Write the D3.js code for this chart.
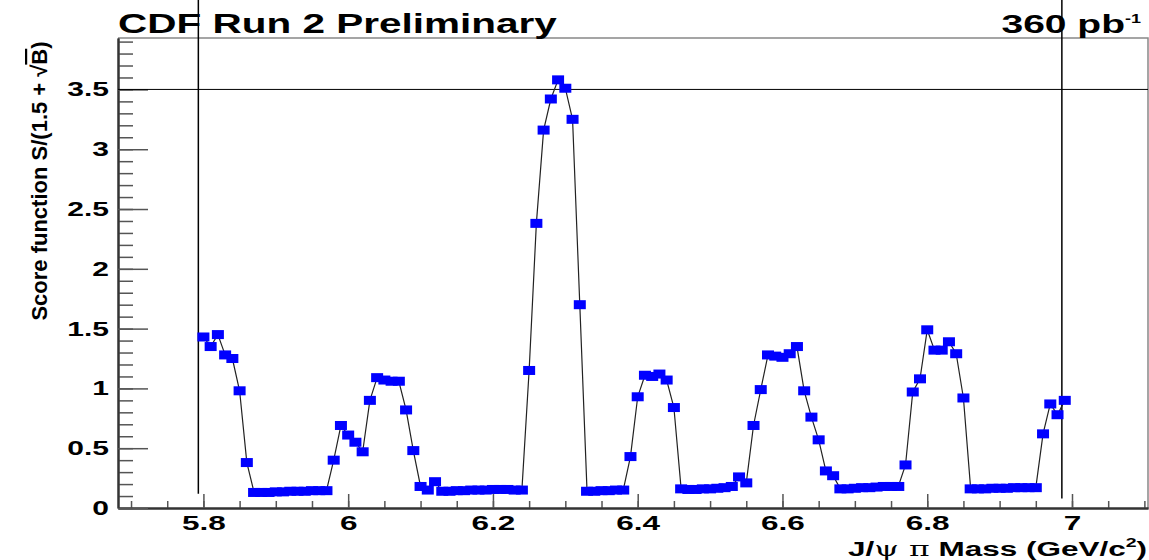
<!DOCTYPE html>
<html>
<head>
<meta charset="utf-8">
<script src="https://cdn.jsdelivr.net/npm/d3@7"></script>
<style>
body { margin: 0; background: #fff; }
svg { display: block; }
text { font-family: "Liberation Sans", Arial, Helvetica, sans-serif; font-weight: bold; fill: #000; }
</style>
</head>
<body>
<svg id="chart"></svg>
<script>
// J/psi pi mass bins (GeV/c^2)
const mass = [
  5.80, 5.81, 5.82, 5.83, 5.84, 5.85, 5.86, 5.87, 5.88, 5.89,
  5.90, 5.91, 5.92, 5.93, 5.94, 5.95, 5.96, 5.97, 5.98, 5.99,
  6.00, 6.01, 6.02, 6.03, 6.04, 6.05, 6.06, 6.07, 6.08, 6.09,
  6.10, 6.11, 6.12, 6.13, 6.14, 6.15, 6.16, 6.17, 6.18, 6.19,
  6.20, 6.21, 6.22, 6.23, 6.24, 6.25, 6.26, 6.27, 6.28, 6.29,
  6.30, 6.31, 6.32, 6.33, 6.34, 6.35, 6.36, 6.37, 6.38, 6.39,
  6.40, 6.41, 6.42, 6.43, 6.44, 6.45, 6.46, 6.47, 6.48, 6.49,
  6.50, 6.51, 6.52, 6.53, 6.54, 6.55, 6.56, 6.57, 6.58, 6.59,
  6.60, 6.61, 6.62, 6.63, 6.64, 6.65, 6.66, 6.67, 6.68, 6.69,
  6.70, 6.71, 6.72, 6.73, 6.74, 6.75, 6.76, 6.77, 6.78, 6.79,
  6.80, 6.81, 6.82, 6.83, 6.84, 6.85, 6.86, 6.87, 6.88, 6.89,
  6.90, 6.91, 6.92, 6.93, 6.94, 6.95, 6.96, 6.97, 6.98, 6.99
];
// score function S/(1.5 + sqrt(B))
const score = [
  1.43, 1.35, 1.45, 1.28, 1.25, 0.98, 0.38, 0.13, 0.13, 0.13,
  0.135, 0.135, 0.14, 0.14, 0.14, 0.145, 0.145, 0.145, 0.40, 0.69,
  0.61, 0.55, 0.47, 0.90, 1.09, 1.07, 1.06, 1.06, 0.82, 0.48,
  0.18, 0.15, 0.22, 0.14, 0.14, 0.145, 0.145, 0.15, 0.15, 0.15,
  0.155, 0.155, 0.155, 0.15, 0.15, 1.15, 2.38, 3.16, 3.42, 3.58,
  3.51, 3.25, 1.70, 0.14, 0.14, 0.145, 0.145, 0.15, 0.15, 0.43,
  0.93, 1.11, 1.10, 1.12, 1.07, 0.84, 0.16, 0.155, 0.155, 0.16,
  0.16, 0.165, 0.17, 0.18, 0.26, 0.21, 0.69, 0.99, 1.28, 1.27,
  1.26, 1.29, 1.35, 0.98, 0.76, 0.57, 0.31, 0.27, 0.16, 0.16,
  0.165, 0.17, 0.17, 0.175, 0.18, 0.18, 0.18, 0.36, 0.97, 1.08,
  1.49, 1.32, 1.32, 1.39, 1.29, 0.92, 0.16, 0.16, 0.16, 0.165,
  0.165, 0.165, 0.17, 0.17, 0.17, 0.17, 0.62, 0.87, 0.78, 0.90
];
const xTicks = [5.8, 6.0, 6.2, 6.4, 6.6, 6.8, 7.0];
const xTickLabels = ['5.8', '6', '6.2', '6.4', '6.6', '6.8', '7'];
const yTicks = [0, 0.5, 1, 1.5, 2, 2.5, 3, 3.5];
const yTickLabels = ['0', '0.5', '1', '1.5', '2', '2.5', '3', '3.5'];
const cutLine = 3.5;          // horizontal reference
const windowEdges = [5.793, 6.986]; // vertical markers

const w = 1149, h = 560;
const padL = 118, padR = 1148, padT = 38, padB = 508;
const sx = 1.5; // the original text is drawn horizontally stretched

const svg = d3.select('#chart').attr('width', w).attr('height', h);

const x = d3.scaleLinear().domain([5.682, 7.105]).range([padL, padR]);
const y = d3.scaleLinear().domain([0, 3.93]).range([padB, padT]);

// frame (top / right)
svg.append('path')
  .attr('d', `M${padL},${padT}H${padR}V${padB}`)
  .attr('fill', 'none').attr('stroke', '#888').attr('stroke-width', 1.5);

// x axis
const xMinor = svg.append('g').attr('transform', `translate(0,${padB})`)
  .call(d3.axisBottom(x).tickValues(d3.range(5.7, 7.11, 0.05)).tickSizeInner(-7).tickSizeOuter(0).tickFormat(''));
const xMajor = svg.append('g').attr('transform', `translate(0,${padB})`)
  .call(d3.axisBottom(x).tickValues(xTicks).tickSizeInner(-14).tickSizeOuter(0).tickPadding(7)
    .tickFormat((d, i) => xTickLabels[i]));

// y axis
const yMinor = svg.append('g').attr('transform', `translate(${padL},0)`)
  .call(d3.axisLeft(y).tickValues(d3.range(0, 3.91, 0.1)).tickSizeInner(-15).tickSizeOuter(0).tickFormat(''));
const yMajor = svg.append('g').attr('transform', `translate(${padL},0)`)
  .call(d3.axisLeft(y).tickValues(yTicks).tickSizeInner(-30).tickSizeOuter(0).tickPadding(6)
    .tickFormat((d, i) => yTickLabels[i]));

[xMinor, xMajor, yMinor, yMajor].forEach(g => {
  g.select('.domain').attr('stroke', '#333').attr('stroke-width', 2);
  g.selectAll('.tick line').attr('stroke', '#555').attr('stroke-width', 1.5);
});
xMajor.selectAll('.tick text')
  .style('font-size', '21px').style('font-family', '"Liberation Sans", Arial, sans-serif').style('font-weight', 'bold')
  .attr('transform', `scale(${sx},1)`);
yMajor.selectAll('.tick text')
  .style('font-size', '20px').style('font-family', '"Liberation Sans", Arial, sans-serif').style('font-weight', 'bold')
  .attr('transform', `scale(${sx},1)`);

// reference lines
svg.append('line')
  .attr('x1', padL).attr('x2', padR).attr('y1', y(cutLine)).attr('y2', y(cutLine))
  .attr('stroke', '#000').attr('stroke-width', 1);
svg.selectAll('.edge').data(windowEdges).enter().append('line')
  .attr('class', 'edge')
  .attr('x1', d => x(d)).attr('x2', d => x(d))
  .attr('y1', 0).attr('y2', (d, i) => y(i === 0 ? 0.12 : 0.08))
  .attr('stroke', '#000').attr('stroke-width', 1.5);

// curve
const pts = mass.map((m, i) => [m, score[i]]);
svg.append('path')
  .datum(pts)
  .attr('fill', 'none').attr('stroke', '#222').attr('stroke-width', 1.2)
  .attr('d', d3.line().x(d => x(d[0])).y(d => y(d[1])));

svg.selectAll('.pt').data(pts).enter().append('rect')
  .attr('class', 'pt')
  .attr('x', d => x(d[0]) - 6).attr('y', d => y(d[1]) - 4.5)
  .attr('width', 12).attr('height', 9)
  .attr('fill', '#0000ff');

// titles
svg.append('text')
  .attr('transform', `translate(${padL},33) scale(${sx},1)`)
  .style('font-size', '27px')
  .text('CDF Run 2 Preliminary');

const lumi = svg.append('text')
  .attr('transform', `translate(1141,33) scale(${sx},1)`)
  .attr('text-anchor', 'end')
  .style('font-size', '26px');
lumi.append('tspan').text('360 pb');
lumi.append('tspan').attr('dy', -10).style('font-size', '12px').text('-1');

const xt = svg.append('text')
  .attr('transform', `translate(1147,556) scale(${sx},1)`)
  .attr('text-anchor', 'end')
  .style('font-size', '21px');
xt.append('tspan').text('J/');
xt.append('tspan').style('font-family', '"DejaVu Serif", "Liberation Serif", serif').style('font-weight', 'normal').text('\u03c8 \u03c0');
xt.append('tspan').text(' Mass (GeV/c');
xt.append('tspan').attr('dy', -9).style('font-size', '13px').text('2');
xt.append('tspan').attr('dy', 9).text(')');

const yt = svg.append('text')
  .attr('transform', `translate(47,181) rotate(-90)`)
  .attr('text-anchor', 'middle')
  .style('font-size', '22px');
yt.append('tspan').text('Score function S/(1.5 + \u221a');
yt.append('tspan').style('text-decoration', 'overline').text('B');
yt.append('tspan').text(')');
</script>
</body>
</html>
